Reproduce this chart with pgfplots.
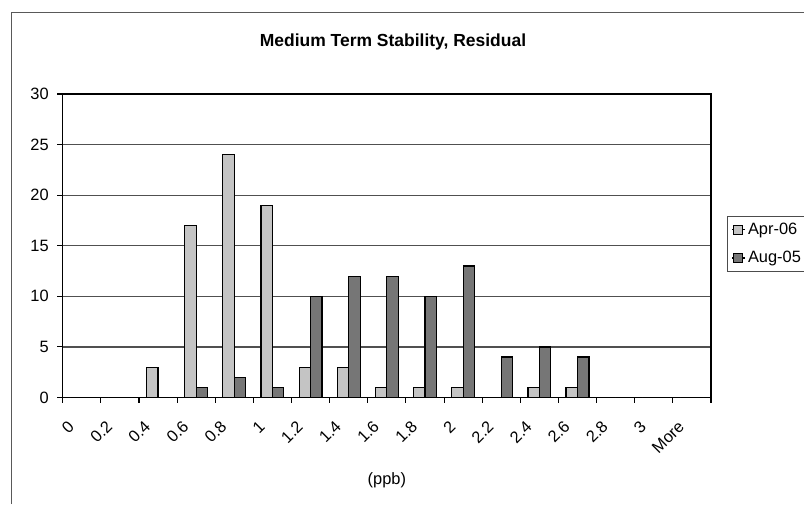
\documentclass[border=0pt]{standalone}
\usepackage{pgfplots}
\pgfplotsset{compat=1.18}
\usepackage{fontspec}
\setmainfont{Liberation Sans}

\definecolor{aprcol}{RGB}{196,196,196}
\definecolor{augcol}{RGB}{118,118,118}
\definecolor{gridcol}{RGB}{80,80,80}

\begin{document}
\begin{tikzpicture}[x=0.75pt,y=0.75pt]
  \useasboundingbox (0,0) rectangle (804,504);
  % chart area frame
  \draw[black!65, line width=1.1pt] (11.5,0) -- (11.5,491.5) -- (804,491.5);
  % title
  \node[font=\fontsize{13.1pt}{15pt}\selectfont\bfseries] at (393,462) {Medium Term Stability, Residual};

  \begin{axis}[
    at={(47.03pt,79.88pt)}, anchor=south west,
    scale only axis,
    width=486.2pt, height=227.6pt,
    ybar=0pt,
    bar width=0.3,
    xmin=-0.5, xmax=16.5,
    ymin=0, ymax=30,
    xtick={-0.5,0.5,...,16.5},
    x tick label as interval,
    xticklabels={0,0.2,0.4,0.6,0.8,1,1.2,1.4,1.6,1.8,2,2.2,2.4,2.6,2.8,3,More},
    ytick={0,5,...,30},
    tick pos=left,
    tick align=outside,
    major tick length=4pt,
    tick style={black, line width=0.8pt},
    ymajorgrids,
    major grid style={gridcol, line width=0.9pt},
    axis line style={black, line width=0.9pt},
    /pgf/number format/assume math mode=true,
    tick label style={font=\fontsize{12.3pt}{14pt}\selectfont},
    % shifts are taken along the rotated label's own axes
    xticklabel style={rotate=45, anchor=east, xshift=-13.3pt, yshift=-5.5pt},
    yticklabel style={xshift=-3pt},
    xlabel={(ppb)},
    xlabel style={font=\fontsize{12.3pt}{14pt}\selectfont,
      at={(axis description cs:0.5,0)}, anchor=center, yshift=-61.9pt},
    legend style={
      at={(1,0.506)}, anchor=west, xshift=12pt,
      draw=black!70, line width=0.8pt,
      font=\fontsize{12.3pt}{14pt}\selectfont,
      row sep=7pt, inner sep=3pt,
      legend cell align=left,
    },
    legend image code/.code={
      \path (0pt,0pt) -- (9.5pt,0pt);
      \draw[#1, draw=black, line width=0.6pt] (1pt,-3.4pt) rectangle (7.8pt,3.4pt);
    },
  ]
    \addplot[fill=aprcol, draw=black, line width=0.9pt] coordinates {
      (0,0) (1,0) (2,3) (3,17) (4,24) (5,19) (6,3) (7,3) (8,1)
      (9,1) (10,1) (11,0) (12,1) (13,1) (14,0) (15,0) (16,0)
    };
    \addplot[fill=augcol, draw=black, line width=0.9pt] coordinates {
      (0,0) (1,0) (2,0) (3,1) (4,2) (5,1) (6,10) (7,12) (8,12)
      (9,10) (10,13) (11,4) (12,5) (13,4) (14,0) (15,0) (16,0)
    };
    \legend{Apr-06, Aug-05}
  \end{axis}
\end{tikzpicture}
\end{document}
